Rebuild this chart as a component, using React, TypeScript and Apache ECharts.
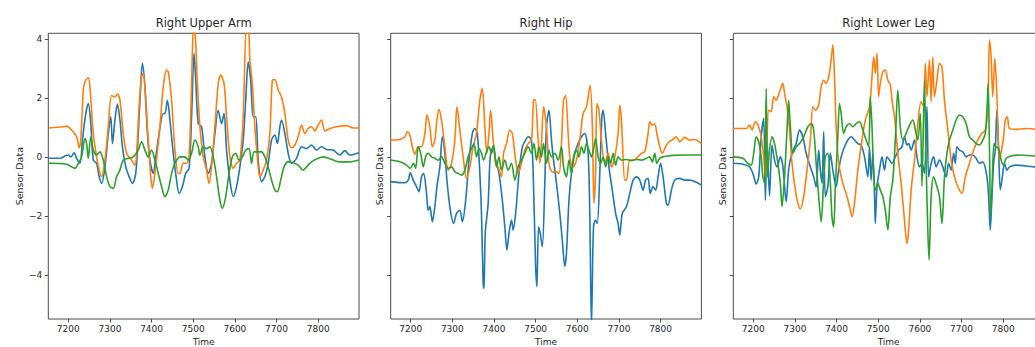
import React, { useEffect, useRef } from "react";
import * as echarts from "echarts";

type Pt = [number, number];

const panelTitles = ["Right Upper Arm", "Right Hip", "Right Lower Leg"];
const xTicks = [7200, 7300, 7400, 7500, 7600, 7700, 7800];
const yTicks = [-4, -2, 0, 2, 4];
const xMin = 7152;
const xMax = 7898;
const yMin = -5.48;
const yMax = 4.21;
const seriesColors = ["#1f77b4", "#ff7f0e", "#2ca02c"];

// Right Upper Arm
const armBlue: Pt[] = [
  [7154, -0.03], [7180, -0.03], [7192, 0.05], [7200, 0.08], [7206, 0.02], [7214, 0.16], [7220, -0.03],
  [7228, -0.2], [7234, 0.59], [7242, 1.49], [7248, 1.83], [7254, 1.15], [7260, -0.09], [7268, -0.2],
  [7274, -0.65], [7280, -0.88], [7288, -0.32], [7296, 0.81], [7302, 1.38], [7306, 0.47], [7312, 1.27],
  [7318, 1.81], [7324, 1.27], [7330, 0.36], [7338, -0.32], [7346, -0.65], [7354, -0.88], [7362, -0.54],
  [7368, 0.81], [7374, 2.5], [7378, 3.19], [7384, 2.4], [7390, 0.81], [7396, -0.09], [7404, -0.54],
  [7410, 0.02], [7418, 0.81], [7428, 1.49], [7432, 1.49], [7438, 1.94], [7444, 1.27], [7452, 0.14],
  [7460, -0.77], [7466, -1.22], [7474, -0.99], [7482, -0.54], [7490, -0.37], [7496, 1.38], [7502, 3.53],
  [7506, 2.62], [7512, 1.15], [7520, 1.04], [7528, 0.02], [7536, -0.54], [7544, -0.2], [7552, 0.81],
  [7560, 1.6], [7568, 1.15], [7574, 1.49], [7580, 0.25], [7588, -0.77], [7596, -1.33], [7604, -0.99],
  [7612, -0.32], [7620, 0.59], [7626, 1.94], [7632, 3.24], [7638, 2.62], [7644, 1.38], [7650, 1.38],
  [7656, -0.09], [7664, -0.82], [7672, -0.65], [7680, -0.2], [7688, 0.59], [7696, 0.76], [7702, 0.47],
  [7708, 1.04], [7712, 1.27], [7720, 0.81], [7728, 0.14], [7736, -0.2], [7748, -0.03], [7760, 0.36],
  [7772, 0.3], [7784, 0.42], [7796, 0.25], [7808, 0.36], [7820, 0.27], [7836, 0.25], [7852, 0.08],
  [7864, 0.23], [7876, 0.08], [7898, 0.16],
];
const armOrange: Pt[] = [
  [7154, 1.0], [7188, 1.04], [7196, 1.06], [7208, 0.93], [7220, 0.7], [7226, 0.33], [7230, 0.59],
  [7236, 2.28], [7240, 2.56], [7248, 2.7], [7252, 2.4], [7260, 0.81], [7268, 0.02], [7276, -0.54],
  [7280, -0.65], [7288, -0.1], [7296, 1.04], [7304, 2.1], [7312, 2.05], [7318, 2.15], [7324, 1.94],
  [7332, 0.81], [7340, 0.14], [7352, -0.09], [7360, -0.26], [7364, 0.14], [7370, 1.72], [7376, 2.73],
  [7380, 2.85], [7386, 1.94], [7392, 0.59], [7398, -0.65], [7402, -1.05], [7408, -0.54], [7420, 1.04],
  [7428, 2.4], [7436, 2.96], [7440, 2.9], [7448, 1.94], [7456, 0.25], [7464, -0.54], [7468, -0.54],
  [7476, -0.2], [7484, -0.2], [7490, 0.02], [7496, 2.5], [7501, 4.6], [7506, 3.86], [7510, 2.5],
  [7516, 1.04], [7524, 0.02], [7532, -0.43], [7538, -0.88], [7544, -0.32], [7552, 1.04], [7560, 2.5],
  [7566, 2.79], [7574, 2.5], [7580, 1.38], [7588, 0.02], [7596, -0.37], [7604, -0.2], [7612, -0.09],
  [7620, 1.38], [7628, 4.5], [7633, 4.4], [7636, 3.3], [7642, 2.5], [7648, 1.04], [7656, -0.32],
  [7660, -0.65], [7668, -0.43], [7676, -0.09], [7684, 0.81], [7690, 2.62], [7696, 2.64], [7704, 2.28],
  [7712, 2.05], [7720, 1.49], [7728, 0.59], [7736, 0.33], [7744, 0.42], [7752, 0.7], [7760, 1.1],
  [7768, 0.81], [7776, 0.98], [7784, 1.04], [7792, 0.9], [7800, 1.1], [7808, 1.27], [7816, 0.9],
  [7828, 0.98], [7844, 1.04], [7868, 1.08], [7884, 1.0], [7898, 1.0],
];
const armGreen: Pt[] = [
  [7154, -0.2], [7196, -0.23], [7208, -0.32], [7216, -0.37], [7224, -0.2], [7232, 0.02], [7240, 0.64],
  [7244, 0.47], [7248, -0.03], [7254, 0.7], [7260, 0.25], [7268, 0.08], [7276, 0.19], [7284, -0.09],
  [7292, -0.65], [7300, -0.99], [7308, -1.05], [7316, -0.65], [7324, -0.43], [7332, -0.09], [7344, -0.03],
  [7356, 0.02], [7368, 0.25], [7376, 0.53], [7384, 0.25], [7392, 0.02], [7400, 0.25], [7408, -0.09],
  [7416, -0.54], [7424, -0.99], [7432, -1.33], [7440, -1.1], [7448, -0.54], [7456, -0.2], [7468, 0.02],
  [7480, 0.02], [7488, -0.09], [7496, 0.14], [7504, 0.59], [7512, 0.36], [7516, 0.08], [7524, 0.36],
  [7532, 0.3], [7540, 0.36], [7548, 0.02], [7556, -0.65], [7564, -1.45], [7570, -1.73], [7578, -1.33],
  [7586, -0.54], [7594, 0.02], [7602, 0.14], [7610, -0.09], [7618, 0.02], [7626, 0.25], [7634, 0.3],
  [7640, -0.2], [7646, 0.19], [7654, 0.19], [7664, 0.19], [7672, 0.02], [7680, -0.32], [7688, -0.77],
  [7696, -1.1], [7702, -1.16], [7710, -0.77], [7718, -0.32], [7728, -0.15], [7740, -0.18], [7752, -0.26],
  [7764, -0.43], [7772, -0.32], [7784, -0.15], [7800, -0.03], [7812, 0.02], [7824, -0.03], [7836, -0.09],
  [7852, -0.15], [7876, -0.15], [7898, -0.09],
];

// Right Hip
const hipBlue: Pt[] = [
  [7151, -0.82], [7186, -0.86], [7194, -0.77], [7199, -0.52], [7206, -0.77], [7214, -0.99], [7220, -1.16],
  [7226, -0.66], [7231, -0.54], [7238, -1.22], [7242, -1.79], [7246, -1.67], [7252, -2.18], [7258, -1.67],
  [7263, -0.99], [7270, -0.32], [7276, 0.7], [7282, 0.14], [7287, -0.77], [7294, -1.67], [7303, -2.24],
  [7310, -1.9], [7318, -1.79], [7324, -2.18], [7332, -1.45], [7340, -0.09], [7348, 0.81], [7354, 0.98],
  [7360, 0.81], [7366, -0.54], [7370, -1.9], [7374, -4.27], [7376, -4.44], [7379, -2.58], [7386, -1.56],
  [7391, 0.02], [7398, 0.36], [7404, -0.09], [7412, -0.54], [7420, -1.45], [7426, -2.35], [7431, -3.14],
  [7436, -2.58], [7442, -2.12], [7446, -2.46], [7452, -1.9], [7460, -0.54], [7468, 0.36], [7476, 0.59],
  [7482, 0.7], [7490, 0.59], [7495, -0.99], [7500, -3.7], [7503, -4.38], [7507, -2.35], [7511, -2.58],
  [7516, -3.03], [7522, -0.88], [7526, 1.04], [7532, 1.6], [7538, 0.59], [7543, -0.09], [7551, -0.99],
  [7558, -1.9], [7564, -2.8], [7570, -3.7], [7574, -3.25], [7580, -1.45], [7586, -0.54], [7594, 0.14],
  [7602, 0.47], [7610, 0.7], [7618, 0.81], [7626, 0.14], [7630, -1.9], [7634, -5.7], [7636, -4.38],
  [7639, -2.35], [7644, -2.12], [7648, -2.24], [7654, -0.54], [7659, 1.38], [7662, 1.6], [7668, 0.81],
  [7676, -0.32], [7684, -1.11], [7692, -1.9], [7698, -2.24], [7702, -2.63], [7708, -1.9], [7718, -1.67],
  [7726, -1.22], [7734, -0.77], [7742, -0.66], [7750, -0.77], [7758, -1.11], [7764, -0.77], [7770, -0.71],
  [7775, -1.22], [7782, -0.99], [7788, -1.11], [7794, -0.66], [7800, -0.2], [7806, -0.66], [7814, -1.56],
  [7818, -1.62], [7826, -1.11], [7834, -0.77], [7846, -0.71], [7858, -0.77], [7870, -0.77], [7882, -0.82],
  [7898, -0.94],
];
const hipOrange: Pt[] = [
  [7151, 0.59], [7174, 0.61], [7186, 0.7], [7192, 0.87], [7198, 0.76], [7204, 0.36], [7210, 0.11],
  [7218, 0.36], [7226, 0.36], [7234, 0.81], [7239, 1.44], [7246, 1.04], [7252, 0.36], [7258, 0.59],
  [7263, 1.27], [7268, 1.63], [7274, 1.27], [7282, 0.36], [7290, -0.43], [7298, -0.2], [7306, 0.59],
  [7311, 1.72], [7318, 0.93], [7326, 0.02], [7334, -0.71], [7342, -0.32], [7350, 0.36], [7358, 0.81],
  [7366, 1.94], [7372, 2.34], [7378, 1.04], [7383, 0.14], [7388, 0.81], [7392, 1.6], [7398, 0.59],
  [7404, -0.2], [7410, -0.32], [7418, -0.65], [7423, 0.14], [7430, 0.47], [7438, 0.93], [7444, 0.81],
  [7450, 0.14], [7458, -0.54], [7466, -0.2], [7474, 0.25], [7482, 0.47], [7490, 0.59], [7495, 1.94],
  [7499, 1.96], [7506, 0.59], [7510, -0.2], [7514, 0.47], [7519, 1.72], [7526, 1.04], [7532, -0.2],
  [7540, -0.49], [7548, -0.49], [7556, -0.54], [7562, 0.47], [7567, 1.94], [7572, 2.1], [7578, 0.81],
  [7583, -0.09], [7590, -0.32], [7598, -0.09], [7606, 0.59], [7614, 1.49], [7622, 1.72], [7626, 2.05],
  [7631, 2.45], [7636, 1.15], [7640, -1.56], [7644, -0.54], [7647, 1.83], [7652, 1.6], [7658, 0.59],
  [7666, -0.2], [7674, 0.14], [7682, -0.32], [7690, 0.02], [7698, 0.81], [7702, 1.77], [7706, 1.27],
  [7714, -0.77], [7718, -0.77], [7726, -0.09], [7734, -0.09], [7746, 0.02], [7754, 0.14], [7762, 0.19],
  [7770, 0.81], [7774, 1.21], [7780, 1.1], [7786, 1.13], [7791, 0.81], [7798, 0.36], [7804, 0.14],
  [7812, 0.36], [7820, 0.53], [7828, 0.59], [7838, 0.7], [7846, 0.53], [7858, 0.68], [7870, 0.59],
  [7882, 0.61], [7898, 0.47],
];
const hipGreen: Pt[] = [
  [7151, -0.09], [7174, -0.15], [7190, -0.26], [7199, -0.37], [7207, -0.2], [7212, -0.37], [7218, 0.36],
  [7224, 0.14], [7230, -0.32], [7236, 0.02], [7242, 0.14], [7250, 0.02], [7258, -0.03], [7266, -0.09],
  [7274, 0.02], [7282, -0.2], [7290, -0.37], [7298, -0.32], [7306, -0.49], [7314, -0.54], [7322, -0.6],
  [7330, -0.43], [7338, 0.02], [7346, 0.3], [7352, 0.47], [7358, 0.02], [7364, 0.3], [7370, 0.14],
  [7375, -0.09], [7382, 0.19], [7388, 0.36], [7394, 0.14], [7399, 0.42], [7406, -0.32], [7412, 0.02],
  [7418, -0.43], [7426, -0.09], [7434, -0.43], [7442, -0.2], [7450, -0.77], [7458, -0.32], [7466, -0.09],
  [7474, 0.14], [7482, 0.36], [7490, 0.14], [7496, 0.47], [7502, -0.09], [7508, 0.36], [7514, 0.02],
  [7519, 0.47], [7526, -0.2], [7532, 0.25], [7538, 0.02], [7546, 0.14], [7554, -0.09], [7562, 0.36],
  [7567, -0.32], [7574, -0.66], [7580, -0.09], [7586, -0.54], [7591, 0.02], [7598, 0.25], [7604, 0.02],
  [7610, 0.36], [7616, 0.14], [7622, 0.47], [7628, 0.25], [7634, 0.02], [7640, 0.36], [7644, 0.64],
  [7650, 0.02], [7656, -0.2], [7662, 0.02], [7668, -0.32], [7674, 0.02], [7680, -0.2], [7686, 0.14],
  [7692, -0.26], [7698, 0.02], [7706, -0.09], [7718, -0.07], [7730, -0.11], [7742, -0.07], [7754, -0.09],
  [7766, -0.03], [7774, 0.02], [7780, -0.15], [7786, 0.14], [7791, -0.2], [7798, -0.03], [7806, 0.02],
  [7818, 0.05], [7830, 0.07], [7854, 0.08], [7898, 0.08],
];

// Right Lower Leg
const legBlue: Pt[] = [
  [7151, -0.2], [7175, -0.23], [7191, -0.32], [7199, -0.54], [7207, -0.9], [7213, -0.66], [7219, 0.7],
  [7225, 1.32], [7229, -1.45], [7233, 0.59], [7239, -1.3], [7245, 0.42], [7251, -0.09], [7257, -0.32],
  [7265, 0.02], [7271, -0.3], [7279, -1.5], [7285, -0.4], [7293, 0.14], [7303, 0.47], [7311, 0.93],
  [7319, 0.7], [7327, 0.14], [7337, -0.32], [7345, -0.66], [7351, -1.0], [7357, 0.25], [7361, -0.43],
  [7365, -0.88], [7369, 0.87], [7373, -1.33], [7379, -0.99], [7385, 0.14], [7391, -0.43], [7399, -0.99],
  [7405, -0.43], [7411, 0.02], [7419, 0.36], [7427, 0.59], [7435, 0.7], [7443, 0.59], [7451, 0.47],
  [7459, 0.42], [7467, 0.02], [7475, -0.66], [7479, 0.36], [7483, -0.77], [7487, 0.14], [7491, -1.22],
  [7493, -2.24], [7497, -0.99], [7503, -0.43], [7509, 0.02], [7515, -0.43], [7521, 0.02], [7527, -0.09],
  [7533, -0.2], [7541, 0.02], [7549, 0.25], [7557, 0.36], [7563, 0.7], [7569, 0.42], [7573, 0.47],
  [7579, 0.25], [7587, 0.59], [7593, 0.02], [7599, -0.32], [7605, -0.2], [7611, -0.54], [7617, 1.72],
  [7621, -0.66], [7627, -0.2], [7633, 0.02], [7639, -0.32], [7647, -0.09], [7655, -0.32], [7663, -0.66],
  [7669, -0.2], [7675, -0.43], [7681, 0.14], [7685, -0.2], [7689, 0.36], [7695, 0.25], [7703, 0.19],
  [7711, 0.02], [7719, 0.08], [7727, 0.08], [7735, -0.03], [7743, -0.2], [7751, -0.15], [7761, -0.66],
  [7765, -1.33], [7769, -2.46], [7773, -1.33], [7777, -0.2], [7781, 0.25], [7785, 1.6], [7789, 0.25],
  [7793, -1.1], [7797, -0.77], [7803, -0.2], [7809, -0.43], [7815, -0.32], [7831, -0.26], [7855, -0.29],
  [7876, -0.32], [7898, -0.32],
];
const legOrange: Pt[] = [
  [7151, 0.98], [7183, 0.98], [7191, 1.1], [7197, 0.93], [7205, 1.21], [7213, 1.04], [7219, 0.7],
  [7225, 0.02], [7229, -0.66], [7233, 0.59], [7237, 1.6], [7243, 1.55], [7249, 2.06], [7255, 1.94],
  [7263, 2.23], [7271, 2.51], [7275, 2.17], [7281, 1.72], [7287, 0.93], [7293, -0.2], [7301, -1.1],
  [7307, -1.56], [7313, -1.75], [7321, -1.33], [7329, -0.43], [7337, 0.59], [7343, 1.72], [7349, 1.6],
  [7357, 1.78], [7363, 2.4], [7369, 2.62], [7375, 2.51], [7381, 2.73], [7387, 3.3], [7391, 3.81],
  [7395, 2.73], [7399, 1.04], [7405, -0.2], [7415, -0.88], [7425, -1.33], [7433, -1.79], [7437, -2.01],
  [7443, -1.56], [7451, -0.43], [7461, 0.59], [7469, 1.27], [7479, 1.72], [7485, 2.73], [7489, 3.41],
  [7493, 2.84], [7497, 3.53], [7501, 2.06], [7505, 2.51], [7511, 2.9], [7517, 2.96], [7523, 2.62],
  [7529, 2.45], [7533, 1.94], [7539, 1.38], [7547, 0.14], [7555, -0.88], [7563, -2.12], [7569, -2.92],
  [7573, -2.46], [7579, -1.11], [7587, -0.09], [7595, 1.15], [7603, 1.89], [7609, 1.72], [7613, 3.19],
  [7617, 2.06], [7623, 3.3], [7627, 1.89], [7631, 3.41], [7635, 2.06], [7641, 2.62], [7647, 3.19],
  [7653, 3.07], [7659, 1.94], [7667, 0.93], [7675, -0.09], [7683, -0.66], [7691, -0.99], [7701, -1.22],
  [7709, -0.66], [7719, -0.2], [7729, 0.25], [7739, 0.59], [7749, 0.81], [7757, 0.93], [7763, 1.6],
  [7767, 3.98], [7771, 3.41], [7775, 2.06], [7780, 3.36], [7785, 2.06], [7791, -0.09], [7796, 0.25],
  [7801, 0.7], [7805, 1.27], [7810, 1.38], [7815, 0.98], [7831, 0.95], [7855, 0.98], [7876, 0.96],
  [7898, 0.97],
];
const legGreen: Pt[] = [
  [7151, 0.02], [7175, -0.03], [7187, -0.2], [7195, -0.26], [7201, 0.14], [7207, 0.7], [7213, 0.53],
  [7219, 0.02], [7223, -0.66], [7227, -0.88], [7231, 2.34], [7234, -0.66], [7239, 0.25], [7245, 0.7],
  [7251, 0.47], [7259, -0.2], [7265, -0.88], [7269, -1.67], [7275, -0.66], [7281, 0.93], [7285, 1.94],
  [7289, 1.04], [7295, 0.14], [7303, 0.36], [7311, 0.47], [7321, 0.7], [7331, 1.04], [7339, 1.15],
  [7345, 0.93], [7351, -0.2], [7357, -1.33], [7363, -2.18], [7369, -0.77], [7373, 0.02], [7379, 0.14],
  [7385, -0.88], [7389, -2.01], [7393, -2.35], [7397, -0.99], [7403, 0.7], [7407, 1.83], [7411, 1.49],
  [7417, 0.81], [7423, 1.04], [7431, 1.15], [7439, 1.04], [7447, 1.15], [7455, 1.21], [7463, 0.93],
  [7471, 0.59], [7477, 0.36], [7481, 2.06], [7485, 1.04], [7489, -0.54], [7493, -1.11], [7499, -0.88],
  [7505, -1.11], [7511, -1.33], [7517, -1.79], [7523, -2.46], [7529, -1.33], [7535, -0.77], [7541, 0.59],
  [7547, 2.28], [7553, 1.04], [7559, 0.59], [7567, 0.81], [7575, 1.09], [7583, 1.27], [7589, 0.93],
  [7595, 0.59], [7601, 1.49], [7605, -0.99], [7611, 2.62], [7615, -0.2], [7619, -2.46], [7622, -3.48],
  [7627, -1.33], [7633, -0.66], [7641, -0.99], [7647, -1.33], [7653, -2.24], [7659, -0.66], [7665, 0.14],
  [7671, 0.59], [7679, 0.93], [7687, 1.27], [7695, 1.43], [7703, 1.38], [7711, 1.15], [7719, 0.7],
  [7727, 0.59], [7735, 0.47], [7743, 0.42], [7751, 0.59], [7757, 0.81], [7761, 1.6], [7764, 2.51],
  [7767, 0.36], [7770, -2.01], [7773, -1.11], [7778, 0.47], [7783, 0.36], [7789, 0.31], [7795, -0.09],
  [7801, -0.26], [7807, -0.03], [7819, 0.05], [7839, 0.08], [7876, 0.05], [7898, 0.05],
];

const panelData: Pt[][][] = [
  [armBlue, armOrange, armGreen],
  [hipBlue, hipOrange, hipGreen],
  [legBlue, legOrange, legGreen],
];

const FONT = "DejaVu Sans, sans-serif";
const TEXT = "#262626";
const FRAME = "#4a4a4a";

export default function App() {
  const ref = useRef<HTMLDivElement>(null);
  useEffect(() => {
    if (!ref.current) return;
    const chart = echarts.init(ref.current, undefined, { renderer: "svg" });
    const lefts = [48.3, 390.7, 733.3];
    const top = 33.3;
    const width = 310.7;
    const height = 285.7;
    const fmtMinus = (v: number) => String(v).replace("-", "\u2212");

    const option: any = {
      animation: false,
      backgroundColor: "#ffffff",
      title: panelTitles.map((t, i) => ({
        text: t,
        left: lefts[i] + width / 2,
        top: 16.5,
        textAlign: "center",
        padding: 0,
        textStyle: { fontFamily: FONT, fontSize: 11.5, fontWeight: "normal", color: TEXT },
      })),
      grid: lefts.map((l) => ({
        left: l,
        top,
        width,
        height,
        show: true,
        borderColor: FRAME,
        borderWidth: 1,
        backgroundColor: "transparent",
        containLabel: false,
        outerBoundsMode: "none",
      })),
      xAxis: lefts.map((_, i) => ({
        type: "value",
        gridIndex: i,
        min: xMin,
        max: xMax,
        position: "bottom",
        name: "Time",
        nameLocation: "middle",
        nameGap: 13.5,
        nameTextStyle: { fontFamily: FONT, fontSize: 9, color: TEXT, lineHeight: 9 },
        axisLine: { show: false, onZero: false },
        splitLine: { show: false },
        axisTick: {
          show: true,
          inside: false,
          length: 3.5,
          customValues: xTicks,
          lineStyle: { color: FRAME, width: 1 },
        },
        axisLabel: {
          show: true,
          customValues: xTicks,
          margin: 5,
          fontFamily: FONT,
          fontSize: 9,
          color: TEXT,
          formatter: (v: number) => String(v),
        },
      })),
      yAxis: lefts.map((_, i) => ({
        type: "value",
        gridIndex: i,
        min: yMin,
        max: yMax,
        position: "left",
        name: "Sensor Data",
        nameLocation: "middle",
        nameGap: i === 0 ? 24 : 6,
        nameTextStyle: { fontFamily: FONT, fontSize: 9.5, color: TEXT },
        axisLine: { show: false, onZero: false },
        splitLine: { show: false },
        axisTick: {
          show: true,
          inside: false,
          length: 3.5,
          customValues: yTicks,
          lineStyle: { color: FRAME, width: 1 },
        },
        axisLabel: {
          show: i === 0,
          customValues: yTicks,
          margin: 6,
          fontFamily: FONT,
          fontSize: 9,
          color: TEXT,
          formatter: fmtMinus,
        },
      })),
      series: panelData.flatMap((panel, pi) =>
        panel.map((data, si) => ({
          type: "line",
          xAxisIndex: pi,
          yAxisIndex: pi,
          data,
          showSymbol: false,
          symbol: "none",
          smooth: 0.3,
          clip: true,
          lineStyle: { color: seriesColors[si], width: 1.6 },
          itemStyle: { color: seriesColors[si] },
          z: 2 + si,
        }))
      ),
    };
    chart.setOption(option);
    return () => chart.dispose();
  }, []);

  return (
    <div
      ref={ref}
      style={{ position: "absolute", left: 0, top: 0, width: 1035, height: 347 }}
    />
  );
}
